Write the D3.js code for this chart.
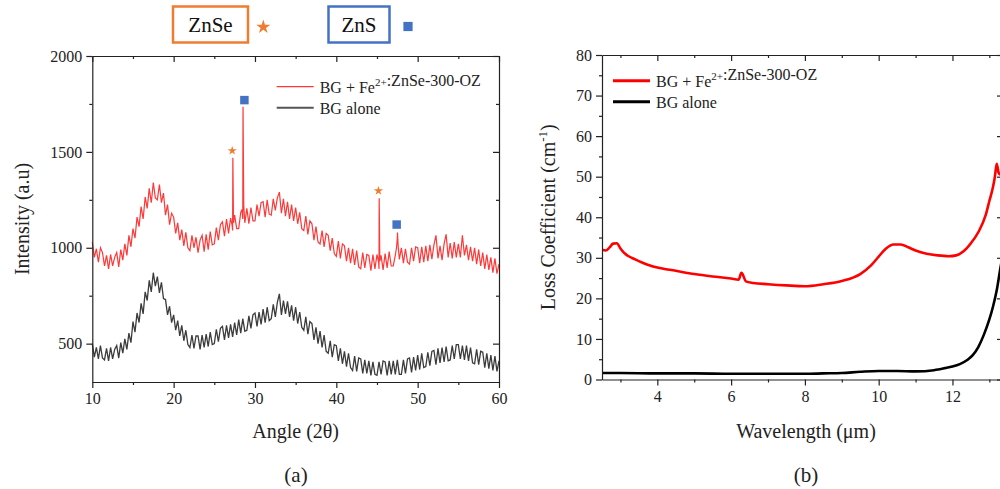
<!DOCTYPE html>
<html>
<head>
<meta charset="utf-8">
<script src="https://cdn.jsdelivr.net/npm/d3@7"></script>
<style>
  body { margin: 0; background: #fff; }
  text { font-family: "Liberation Serif", "Times New Roman", serif; }
  .tick text { font-size: 16px; fill: #222; }
  .domain, .tick line { stroke: #222; stroke-width: 1.2px; }
</style>
</head>
<body>
<svg id="chart" width="1000" height="489"></svg>
<script>
// ---- (a) XRD data, sampled every 0.25 deg from 10 to 60 ----
const xrdAngles = d3.range(201).map(i => 10 + i * 0.25);

const fznseIntensity = [
  1030, 950, 995, 925,    1000, 975, 905, 960,    890, 965, 905, 950,     975, 900, 990, 935,
  1020, 960, 1065, 1005,  1100, 1050, 1160, 1110, 1215, 1150, 1265, 1205, 1310, 1235, 1340, 1260,
  1250, 1330, 1235, 1285, 1170, 1225, 1120, 1180, 1160, 1075, 1130, 1040, 1095, 1010, 1080, 1000,
  985, 1065, 1000, 1055,  975, 1040, 1065, 980,   1070, 990, 1085, 1015,  1020, 1105, 1040, 1120,
  1135, 1060, 1150, 1075, 1155, 1090, 1170, 1100, 1100, 1185, 1150, 1130, 1205, 1125, 1210, 1140,
  1140, 1225, 1165, 1235, 1240, 1160, 1250, 1175, 1170, 1255, 1195, 1260, 1290, 1180, 1255, 1165,
  1240, 1150, 1225, 1140, 1210, 1125, 1185, 1100, 1090, 1165, 1070, 1140, 1125, 1040, 1110, 1030,
  1020, 1090, 1005, 1075, 1065, 985, 1050, 970,   955, 1035, 945, 1020,   1010, 930, 1000, 920,
  995, 910, 985, 900,     890, 975, 895, 965,     960, 880, 965, 890,     965, 890, 960, 885,
  970, 895, 980, 905,     905, 960, 1050, 940,    1000, 920, 995, 925,    915, 1000, 930, 1005,
  1000, 920, 1005, 925,   1010, 930, 1015, 940,   1015, 1065, 945, 1010,  935, 1020, 1070, 950,
  1025, 945, 1030, 950,   1020, 950, 1065, 960,   1015, 935, 1005, 930,   1000, 915, 990, 905,
  975, 890, 965, 885,     950, 870, 945, 865,     915
];

const bgIntensity = [
  500, 430, 480, 420,  490, 425, 415, 475,  410, 480, 420, 470,  490, 425, 505, 450,
  525, 470, 555, 505,  615, 560, 660, 610,  710, 655, 770, 725,  830, 770, 870, 800,
  850, 765, 820, 735,  730, 650, 695, 610,  650, 570, 620, 540,  595, 515, 570, 495,
  480, 545, 475, 540,  540, 470, 545, 480,  550, 485, 560, 495,  500, 575, 510, 580,
  590, 520, 595, 530,  600, 535, 610, 545,  625, 555, 630, 565,  570, 645, 580, 650,
  660, 590, 665, 600,  680, 610, 690, 620,  630, 705, 640, 715,  760, 650, 725, 655,
  720, 640, 700, 620,  690, 605, 665, 585,  570, 640, 550, 615,  605, 520, 585, 500,
  565, 480, 545, 460,  450, 515, 430, 495,  490, 410, 475, 395,  460, 380, 450, 375,
  360, 435, 355, 425,  420, 345, 415, 345,  410, 335, 405, 340,  335, 405, 340, 410,
  405, 335, 410, 340,  410, 340, 415, 340,  340, 415, 345, 420,  425, 350, 430, 360,
  440, 365, 450, 375,  380, 455, 385, 460,  465, 390, 475, 400,  480, 405, 485, 410,
  415, 490, 420, 495,  495, 420, 490, 415,  490, 410, 480, 400,  395, 470, 390, 460,
  455, 375, 450, 370,  440, 360, 435, 355,  410
];

// sharp crystalline reflections in the Fe:ZnSe sample [angle, intensity]
const fznsePeaks = [
  [27.18, 1120], [27.28, 1470], [27.36, 1130],
  [28.40, 1200], [28.53, 1735], [28.62, 1220],
  [45.20, 925], [45.27, 1258], [45.35, 930],
  [47.40, 1000], [47.52, 1080], [47.60, 1010]
];

const phaseMarks = [
  { angle: 27.2, value: 1506, phase: "ZnSe" },
  { angle: 28.7, value: 1770, phase: "ZnS" },
  { angle: 45.18, value: 1297, phase: "ZnSe" },
  { angle: 47.42, value: 1121, phase: "ZnS" }
];

const xrdXTicks = [10, 20, 30, 40, 50, 60];
const xrdXMinor = [15, 25, 35, 45, 55];
const xrdYTicks = [500, 1000, 1500, 2000];
const xrdYMinor = [750, 1250, 1750];

// ---- (b) loss coefficient data ----
const fznseWl = [2.5, 2.6, 2.7, 2.8, 2.9, 3.0, 3.1, 3.2, 3.4, 3.6, 3.8, 4.0, 4.5, 5.0, 5.5, 6.0, 6.2, 6.28, 6.32, 6.4,
  6.6, 7.0, 7.5, 8.0, 8.5, 9.0, 9.5, 9.8, 10.0, 10.2, 10.4, 10.6, 10.8, 11.0, 11.3, 11.6, 11.9, 12.1, 12.3, 12.5,
  12.7, 12.9, 13.0, 13.1, 13.15, 13.2, 13.25, 13.3, 13.37];
const fznseLoss = [32.0, 31.8, 32.5, 33.5, 33.6, 32.3, 31.2, 30.5, 29.6, 28.8, 28.1, 27.6, 26.8, 26.0, 25.4, 24.9, 24.6, 26.3, 25.8, 24.2,
  23.8, 23.5, 23.2, 23.0, 23.5, 24.3, 26.0, 28.2, 30.3, 32.3, 33.3, 33.3, 32.6, 31.8, 31.0, 30.6, 30.4, 30.6, 31.6, 33.6,
  36.3, 40.5, 44.0, 47.5, 50.0, 53.2, 51.0, 50.5, 50.0];

const bgWl = [2.5, 3, 4, 5, 6, 7, 8, 8.5, 9, 9.5, 10, 10.5, 11, 11.5, 11.8, 12.0, 12.2, 12.4, 12.55, 12.7, 12.85, 13.0, 13.1, 13.2, 13.3, 13.37];
const bgLoss = [1.6, 1.6, 1.5, 1.5, 1.4, 1.4, 1.4, 1.5, 1.6, 1.9, 2.1, 2.1, 2.0, 2.3, 2.8, 3.2, 3.8, 4.8, 6.0, 8.0, 11.0, 14.8, 18.0, 22.0, 27.5, 31.0];

const lossXTicks = [4, 6, 8, 10, 12];
const lossXMinor = [3, 5, 7, 9, 11, 13];
const lossYTicks = [0, 10, 20, 30, 40, 50, 60, 70, 80];
const lossYMinor = [5, 15, 25, 35, 45, 55, 65, 75];

const ORANGE = "#ed7d31", BLUE = "#4472c4";
const SERIF = '"Liberation Serif", "Times New Roman", serif';

const svg = d3.select("#chart");

function addAxis(g, axis, shift) {
  const a = g.append("g");
  if (shift) a.attr("transform", shift);
  a.call(axis).attr("font-family", SERIF).attr("font-size", 16);
  return a;
}

function frame(g, x, y, w, h, t) {
  addAxis(g, d3.axisBottom(x).tickValues(t.xMajor).tickSizeInner(6).tickSizeOuter(0).tickPadding(5).tickFormat(d3.format("d")), `translate(0,${h})`);
  addAxis(g, d3.axisBottom(x).tickValues(t.xMinor).tickSizeInner(3).tickSizeOuter(0).tickFormat(""), `translate(0,${h})`)
    .select(".domain").remove();
  addAxis(g, d3.axisLeft(y).tickValues(t.yMajor).tickSizeInner(6).tickSizeOuter(0).tickPadding(4).tickFormat(d3.format("d")));
  addAxis(g, d3.axisLeft(y).tickValues(t.yMinor).tickSizeInner(3).tickSizeOuter(0).tickFormat(""))
    .select(".domain").remove();
  // mirrored inward ticks on top and right
  addAxis(g, d3.axisTop(x).tickValues(t.xMajor).tickSizeInner(-6).tickSizeOuter(0).tickFormat(""));
  addAxis(g, d3.axisTop(x).tickValues(t.xMinor).tickSizeInner(-3).tickSizeOuter(0).tickFormat(""))
    .select(".domain").remove();
  addAxis(g, d3.axisRight(y).tickValues(t.yMajor).tickSizeInner(-6).tickSizeOuter(0).tickFormat(""), `translate(${w},0)`);
  addAxis(g, d3.axisRight(y).tickValues(t.yMinor).tickSizeInner(-3).tickSizeOuter(0).tickFormat(""), `translate(${w},0)`)
    .select(".domain").remove();
}

function legend(g, x0, y0, items) {
  items.forEach((it, i) => {
    const yy = y0 + i * 21;
    g.append("line").attr("x1", x0).attr("x2", x0 + 37).attr("y1", yy).attr("y2", yy)
      .attr("stroke", it.color).attr("stroke-width", it.width);
    const t = g.append("text").attr("x", x0 + 43).attr("y", yy + 6).attr("font-size", 16)
      .attr("font-family", SERIF).attr("fill", "#222");
    it.label.forEach(p => {
      if (p.sup) {
        t.append("tspan").attr("font-size", 11).attr("dy", -7).text(p.sup);
        t.append("tspan").attr("dy", 7).text("");
      } else t.append("tspan").text(p.text);
    });
  });
}

const sampleLabel = [{ text: "BG + Fe" }, { sup: "2+" }, { text: ":ZnSe-300-OZ" }];

// ================= (a) =================
{
  const m = { left: 92.3, top: 56 }, w = 406.7, h = 326;
  const g = svg.append("g").attr("transform", `translate(${m.left},${m.top})`);
  const x = d3.scaleLinear().domain([10, 60]).range([0, w]);
  const y = d3.scaleLinear().domain([300, 2000]).range([h, 0]);

  const redPts = xrdAngles.map((a, i) => [a, fznseIntensity[i]]).concat(fznsePeaks)
    .sort((p, q) => p[0] - q[0]);
  const grayPts = xrdAngles.map((a, i) => [a, bgIntensity[i]]);
  const line = d3.line().x(d => x(d[0])).y(d => y(d[1]));

  g.append("path").datum(grayPts).attr("d", line).attr("fill", "none")
    .attr("stroke", "#3c3c3c").attr("stroke-width", 1.3);
  g.append("path").datum(redPts).attr("d", line).attr("fill", "none")
    .attr("stroke", "#ff3838").attr("stroke-width", 1.2);

  frame(g, x, y, w, h, { xMajor: xrdXTicks, xMinor: xrdXMinor, yMajor: xrdYTicks, yMinor: xrdYMinor });

  g.selectAll(".mark").data(phaseMarks).join("path")
    .attr("class", "mark")
    .attr("transform", d => `translate(${x(d.angle)},${y(d.value)})`)
    .attr("d", d => d.phase === "ZnSe"
      ? d3.symbol(d3.symbolStar, 26)()
      : d3.symbol(d3.symbolSquare, 72)())
    .attr("fill", d => d.phase === "ZnSe" ? ORANGE : BLUE);

  legend(g, 276.7 - m.left, 86.7 - m.top, [
    { color: "#ff3838", width: 1.3, label: sampleLabel },
    { color: "#555", width: 2, label: [{ text: "BG alone" }] }
  ]);

  g.append("text").attr("transform", `translate(${22 - m.left},${h / 2}) rotate(-90)`)
    .attr("text-anchor", "middle").attr("dy", "0.35em").attr("font-size", 20).attr("fill", "#222")
    .text("Intensity (a.u)");
  g.append("text").attr("x", w / 2).attr("y", 438 - m.top).attr("text-anchor", "middle")
    .attr("font-size", 20).attr("fill", "#222").text("Angle (2θ)");
  g.append("text").attr("x", 296 - m.left).attr("y", 482 - m.top).attr("text-anchor", "middle")
    .attr("font-size", 21).attr("fill", "#222").text("(a)");
}

// ================= (b) =================
{
  const m = { left: 602, top: 55 }, w = 401, h = 324.5;
  const g = svg.append("g").attr("transform", `translate(${m.left},${m.top})`);
  const x = d3.scaleLinear().domain([2.5, 13.37]).range([0, w]);
  const y = d3.scaleLinear().domain([0, 80]).range([h, 0]);

  svg.append("clipPath").attr("id", "clipB").append("rect")
    .attr("x", 0).attr("y", 0).attr("width", w).attr("height", h);

  const line = d3.line().curve(d3.curveMonotoneX).x(d => x(d[0])).y(d => y(d[1]));
  const plot = g.append("g").attr("clip-path", "url(#clipB)");
  plot.append("path").datum(bgWl.map((v, i) => [v, bgLoss[i]])).attr("d", line)
    .attr("fill", "none").attr("stroke", "#000").attr("stroke-width", 2.6);
  plot.append("path").datum(fznseWl.map((v, i) => [v, fznseLoss[i]])).attr("d", line)
    .attr("fill", "none").attr("stroke", "#ff0000").attr("stroke-width", 2.6);

  frame(g, x, y, w, h, { xMajor: lossXTicks, xMinor: lossXMinor, yMajor: lossYTicks, yMinor: lossYMinor });

  legend(g, 613 - m.left, 80.7 - m.top, [
    { color: "#ff0000", width: 3, label: sampleLabel },
    { color: "#000", width: 3, label: [{ text: "BG alone" }] }
  ]);

  const yt = g.append("text").attr("transform", `translate(${548 - m.left},${h / 2}) rotate(-90)`)
    .attr("text-anchor", "middle").attr("dy", "0.35em").attr("font-size", 20).attr("fill", "#222");
  yt.append("tspan").text("Loss Coefficient (cm");
  yt.append("tspan").attr("font-size", 13).attr("dy", -8).text("-1");
  yt.append("tspan").attr("dy", 8).text(")");

  g.append("text").attr("x", 806 - m.left).attr("y", 438 - m.top).attr("text-anchor", "middle")
    .attr("font-size", 20).attr("fill", "#222").text("Wavelength (μm)");
  g.append("text").attr("x", 806 - m.left).attr("y", 482 - m.top).attr("text-anchor", "middle")
    .attr("font-size", 21).attr("fill", "#222").text("(b)");
}

// ================= phase key on top =================
{
  const key = svg.append("g").attr("font-family", SERIF);
  key.append("rect").attr("x", 173).attr("y", 6.5).attr("width", 75).attr("height", 36)
    .attr("fill", "none").attr("stroke", ORANGE).attr("stroke-width", 2.5);
  key.append("text").attr("x", 210.5).attr("y", 31.5).attr("text-anchor", "middle")
    .attr("font-size", 21).attr("fill", "#111").text("ZnSe");
  key.append("path").attr("transform", "translate(263.3,27)").attr("d", d3.symbol(d3.symbolStar, 62)())
    .attr("fill", ORANGE);

  key.append("rect").attr("x", 328.5).attr("y", 6.5).attr("width", 61).attr("height", 36)
    .attr("fill", "none").attr("stroke", BLUE).attr("stroke-width", 2.5);
  key.append("text").attr("x", 359).attr("y", 31.5).attr("text-anchor", "middle")
    .attr("font-size", 21).attr("fill", "#111").text("ZnS");
  key.append("path").attr("transform", "translate(408,26.5)").attr("d", d3.symbol(d3.symbolSquare, 85)())
    .attr("fill", BLUE);
}
</script>
</body>
</html>
